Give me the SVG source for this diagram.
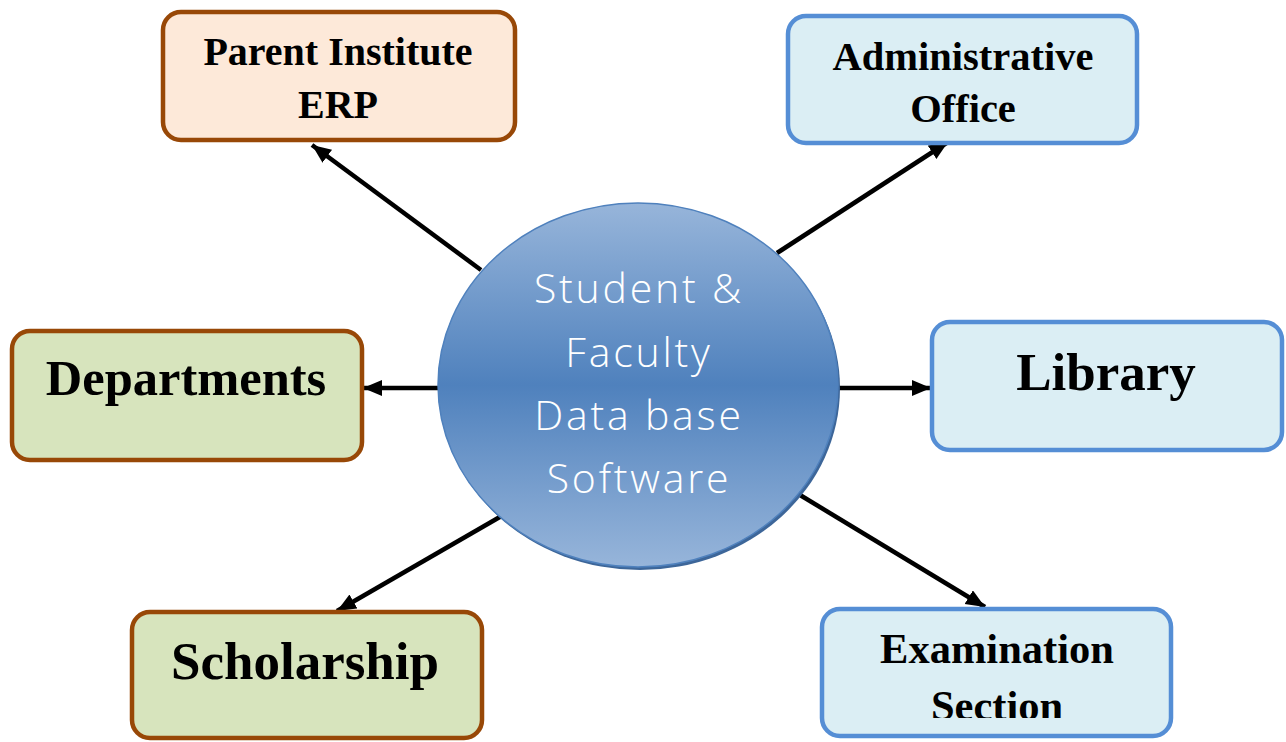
<svg xmlns="http://www.w3.org/2000/svg" width="1286" height="742" viewBox="0 0 1286 742">
<style>
.box{stroke-width:4.5}
.brown{stroke:#984807}
.blue{stroke:#558ed5}
.peach{fill:#fde9d9}
.green{fill:#d7e4bd}
.lblue{fill:#dbeef4}
.lbl{font-family:"Liberation Serif","Times New Roman",serif;font-weight:bold;fill:#000;text-anchor:middle}
.ctr{font-family:"Open Sans","DejaVu Sans",sans-serif;font-weight:300;fill:#fff;text-anchor:middle;font-size:41px;letter-spacing:2.8px}
.conn{stroke:#000;stroke-width:4.5;fill:none;marker-end:url(#ah)}
</style>
<defs>
<marker id="ah" markerUnits="userSpaceOnUse" markerWidth="22" markerHeight="18" refX="19" refY="8" orient="auto">
<path d="M0,0 L19,8 L0,16 z" fill="#000"/>
</marker>
<linearGradient id="cg" x1="0" y1="0" x2="0" y2="1">
<stop offset="0" stop-color="#97b5da"/>
<stop offset="0.5" stop-color="#4f81bd"/>
<stop offset="1" stop-color="#97b5da"/>
</linearGradient>
<clipPath id="secclip"><rect x="820" y="600" width="360" height="118"/></clipPath>
</defs>
<rect width="1286" height="742" fill="#fff"/>
<g id="connectors">
<line class="conn" x1="481" y1="270" x2="312" y2="145"/>
<line class="conn" x1="777" y1="253" x2="948" y2="142"/>
<line class="conn" x1="438" y1="388" x2="363" y2="388"/>
<line class="conn" x1="833" y1="388" x2="931" y2="388"/>
<line class="conn" x1="505" y1="514" x2="337" y2="611"/>
<line class="conn" x1="800" y1="495" x2="985" y2="607"/>
</g>
<g id="center">
<ellipse cx="640" cy="388" rx="200" ry="182" fill="#3d6699"/>
<ellipse cx="638" cy="385" rx="200" ry="182" fill="url(#cg)" stroke="#4f81bd" stroke-width="1.5"/>
<text class="ctr" x="639" y="303">Student &amp;</text>
<text class="ctr" x="639" y="367">Faculty</text>
<text class="ctr" x="639" y="430">Data base</text>
<text class="ctr" x="639" y="493">Software</text>
</g>
<g id="parent">
<rect class="box brown peach" x="163" y="12" width="352" height="128" rx="18"/>
<text class="lbl" x="338" y="65" font-size="40">Parent Institute</text>
<text class="lbl" x="338" y="118" font-size="40">ERP</text>
</g>
<g id="admin">
<rect class="box blue lblue" x="788" y="16" width="349" height="127" rx="18"/>
<text class="lbl" x="963" y="70" font-size="40.5">Administrative</text>
<text class="lbl" x="963" y="122" font-size="40.5">Office</text>
</g>
<g id="departments">
<rect class="box brown green" x="12" y="331" width="350" height="129" rx="18"/>
<text class="lbl" x="186" y="395" font-size="50.5">Departments</text>
</g>
<g id="library">
<rect class="box blue lblue" x="932" y="322" width="350" height="128" rx="18"/>
<text class="lbl" x="1106" y="390" font-size="53">Library</text>
</g>
<g id="scholarship">
<rect class="box brown green" x="132" y="612" width="350" height="126" rx="18"/>
<text class="lbl" x="305" y="679" font-size="53">Scholarship</text>
</g>
<g id="examination">
<rect class="box blue lblue" x="822" y="609" width="349" height="127" rx="18"/>
<text class="lbl" x="997" y="663" font-size="42.5">Examination</text>
<text class="lbl" x="997" y="720" font-size="42.5" clip-path="url(#secclip)">Section</text>
</g>
</svg>
